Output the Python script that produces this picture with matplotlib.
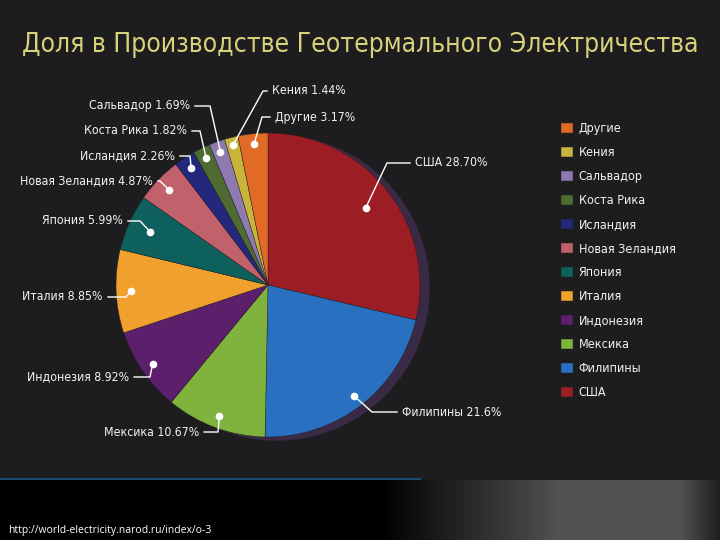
import numpy as np
import matplotlib.pyplot as plt
from matplotlib.patches import Circle

# Данные
countries = ['США', 'Филипины', 'Мексика', 'Индонезия', 'Италия', 'Япония',
             'Новая Зеландия', 'Исландия', 'Коста Рика', 'Сальвадор', 'Кения', 'Другие']
shares = [28.70, 21.6, 10.67, 8.92, 8.85, 5.99, 4.87, 2.26, 1.82, 1.69, 1.44, 3.17]
share_labels = ['28.70%', '21.6%', '10.67%', '8.92%', '8.85%', '5.99%',
                '4.87%', '2.26%', '1.82%', '1.69%', '1.44%', '3.17%']

colors = ['#9c1d24', '#2a70c0', '#80b23e', '#5b1f6b', '#f0a02c', '#0e605c',
          '#c0616b', '#23287c', '#4e6b31', '#8f79b1', '#c9b43b', '#e06a26']

# Положение подписей (пиксели): x текста, y, x излома, выравнивание
label_pos = [(415, 377, 387, 'left'), (402, 128, 372, 'left'), (199, 108, 218, 'right'),
             (129, 163, 150, 'right'), (103, 243, 126, 'right'), (123, 319, 140, 'right'),
             (153, 359, 160, 'right'), (175, 384, 190, 'right'), (187, 409, 200, 'right'),
             (190, 434, 210, 'right'), (272, 449, 263, 'left'), (275, 423, 262, 'left')]
dot_r = [0.82, 0.92, 0.92, 0.92, 0.9, 0.85, 0.9, 0.92, 0.93, 0.93, 0.95, 0.93]

plt.rcParams['font.family'] = ['DejaVu Sans']
plt.rcParams['font.stretch'] = 'condensed'

fig = plt.figure(figsize=(7.2, 5.4), dpi=100)
fig.patch.set_facecolor('#1d1d1f')
ax = fig.add_axes([0, 0, 1, 1])

# нижняя полоса с градиентом
grad = np.concatenate([np.zeros(380), np.linspace(0, 0.32, 180), np.full(120, 0.32), np.linspace(0.32, 0.12, 40)])
ax.imshow(np.tile(grad, (2, 1)), cmap='gray', vmin=0, vmax=1, extent=[0, 720, 0, 60], aspect='auto', zorder=0)
ax.plot([0, 420], [61, 61], color='#1b4a6c', lw=1.5, zorder=1)

cx, cy, R = 268, 255, 152
ax.add_patch(Circle((cx + 9, cy - 3), R, color='#3a2a46', zorder=1))
wedges, _ = ax.pie(shares, colors=colors, startangle=90, counterclock=False,
                   center=(cx, cy), radius=R, frame=True,
                   wedgeprops=dict(edgecolor='#1d1d1f', linewidth=0.3, zorder=2))
ax.set_xlim(0, 720)
ax.set_ylim(0, 540)
ax.axis('off')

for w, name, lab, (lx, ly, ex, ha), r in zip(wedges, countries, share_labels, label_pos, dot_r):
    ang = np.deg2rad((w.theta1 + w.theta2) / 2)
    px, py = cx + r * R * np.cos(ang), cy + r * R * np.sin(ang)
    end = lx - 5 if ha == 'left' else lx + 5
    ax.plot([px, ex, end], [py, ly, ly], color='white', lw=1, zorder=3)
    ax.plot(px, py, 'o', color='white', ms=4.5, zorder=4)
    ax.text(lx, ly, f'{name} {lab}', color='#f2f2f2', fontsize=8.8, ha=ha, va='center', zorder=4)

leg = ax.legend(wedges[::-1], countries[::-1], loc='upper left', bbox_to_anchor=(550 / 720, 1 - 111 / 540),
                bbox_transform=fig.transFigure, frameon=False, fontsize=9, labelcolor='#f2f2f2',
                handlelength=0.9, handleheight=0.9, labelspacing=0.88, handletextpad=0.5)

ax.text(360, 495, 'Доля в Производстве Геотермального Электричества', color='#d8d27a',
        fontsize=19, ha='center', va='center')
ax.text(8, 10, 'http://world-electricity.narod.ru/index/o-3', color='white', fontsize=7.5, ha='left', va='center',
        family=['Open Sans', 'DejaVu Sans'], stretch='normal')

fig.savefig('out.png', dpi=100, facecolor=fig.get_facecolor())
